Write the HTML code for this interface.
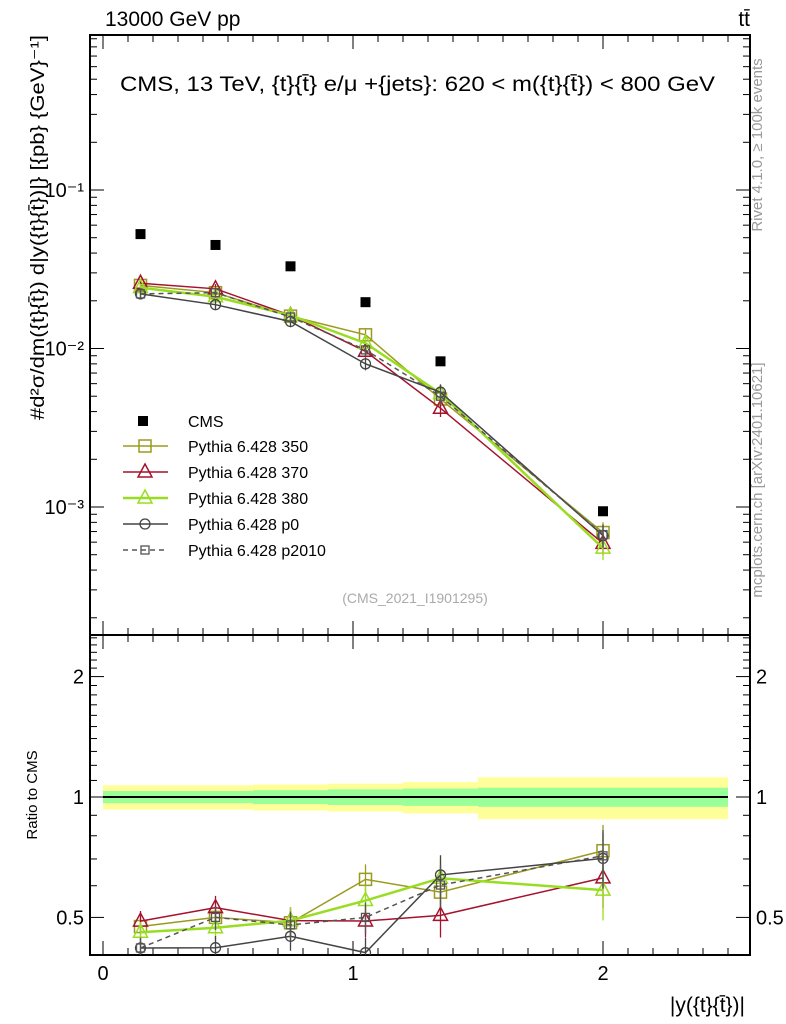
<!DOCTYPE html>
<html><head><meta charset="utf-8"><style>
html,body{margin:0;padding:0;background:#fff;}
svg{display:block;font-family:"Liberation Sans",sans-serif;}
</style></head><body>
<svg id="c" width="786" height="1024" viewBox="0 0 786 1024">
<text x="105" y="26" font-size="21">13000 GeV pp</text>
<text x="750" y="26" font-size="21" text-anchor="end">tt̄</text>
<text x="120" y="91" font-size="21" textLength="595" lengthAdjust="spacingAndGlyphs">CMS, 13 TeV, {t}{t̄} e/μ +{jets}: 620 &lt; m({t}{t̄}) &lt; 800 GeV</text>
<text transform="translate(44,420) rotate(-90)" font-size="19" textLength="385" lengthAdjust="spacingAndGlyphs">#d²σ/dm({t}{t̄}) d|y({t}{t̄})|} [{pb} {GeV}⁻¹]</text>
<text transform="translate(762,145) rotate(-90)" font-size="15" fill="#999" text-anchor="middle">Rivet 4.1.0, ≥ 100k events</text>
<text transform="translate(762,480) rotate(-90)" font-size="15" fill="#999" text-anchor="middle">mcplots.cern.ch [arXiv:2401.10621]</text>
<text x="415" y="603" font-size="14" fill="#aaa" text-anchor="middle">(CMS_2021_I1901295)</text>
<text transform="translate(37,795) rotate(-90)" font-size="15" text-anchor="middle">Ratio to CMS</text>
<text x="745" y="1012" font-size="21" text-anchor="end">|y({t}{t̄})|</text>
<g id="g"></g>
</svg>
<script>
const xCenters=[0.15,0.45,0.75,1.05,1.35,2.0];
const xLow=[0,0.3,0.6,0.9,1.2,1.5];
const xHigh=[0.3,0.6,0.9,1.2,1.5,2.5];
const cmsVals=[0.0527,0.045,0.033,0.0196,0.0083,0.00094];
const bandOuter=[0.07,0.07,0.075,0.08,0.09,0.12];
const bandInner=[0.035,0.035,0.04,0.045,0.05,0.055];
const mc350=[0.0250,0.0225,0.0160,0.0122,0.0048,0.00069];
const mc370=[0.0258,0.0238,0.0162,0.0096,0.0042,0.00059];
const mc380=[0.0242,0.0212,0.0162,0.0108,0.0052,0.00055];
const mcP0=[0.0221,0.0189,0.0148,0.0080,0.0053,0.00066];
const mcP2010=[0.0221,0.0225,0.0158,0.0098,0.0050,0.00067];
const relErr=[0.06,0.07,0.08,0.09,0.12,0.16];
const xTickLabels=["0","1","2"];
const mainTickLabels=["10⁻¹","10⁻²","10⁻³"];
const ratioTickLabels=["0.5","1","2"];

const NS="http://www.w3.org/2000/svg";
const g=document.getElementById('g');
function mk(t,a,p){const e=document.createElementNS(NS,t);for(const k in a)e.setAttribute(k,a[k]);(p||g).appendChild(e);return e;}
const L=90,R=750,T1=35,B1=635,T2=635,B2=955;
const X=v=>103+250*v;
const Ym=v=>190-158.5*(Math.log10(v)+1);
const Yr=v=>797-400*Math.log10(v);

for(let i=0;i<xLow.length;i++){
 let e=mk('rect',{x:X(xLow[i]),y:Yr(1+bandOuter[i]),width:X(xHigh[i])-X(xLow[i]),height:Yr(1-bandOuter[i])-Yr(1+bandOuter[i]),fill:'#ffff99'});
 
 
 let f=mk('rect',{x:X(xLow[i]),y:Yr(1+bandInner[i]),width:X(xHigh[i])-X(xLow[i]),height:Yr(1-bandInner[i])-Yr(1+bandInner[i]),fill:'#99ff99'});
 
 
}
let ln=mk('line',{x1:X(0),x2:X(2.5),y1:Yr(1),y2:Yr(1),stroke:'#000','stroke-width':2});



for(const [t,b,nm] of [[T1,B1,'main-frame'],[T2,B2,'ratio-frame']]){
 let r=mk('rect',{x:L,y:t,width:R-L,height:b-t,fill:'none',stroke:'#000','stroke-width':2});
 
 
}
for(let v=0;v<=2.5001;v+=0.1){
 const maj=Math.abs(v-Math.round(v))<1e-6;const len=maj?14:7;const x=X(v);
 for(const [t,b] of [[T1,B1],[T2,B2]]){
  mk('line',{x1:x,x2:x,y1:b,y2:b-len,stroke:'#000'});
  mk('line',{x1:x,x2:x,y1:t,y2:t+len,stroke:'#000'});
 }
}
xTickLabels.forEach((s,i)=>{let t=mk('text',{x:X(i),y:980,'font-size':20,'text-anchor':'middle'});t.textContent=s;
 
 });
for(let d=-4;d<=0;d++)for(let m=1;m<10;m++){
 const v=m*Math.pow(10,d);const y=Ym(v);if(y<T1||y>B1)continue;const len=m==1?14:7;
 mk('line',{x1:L,x2:L+len,y1:y,y2:y,stroke:'#000'});mk('line',{x1:R,x2:R-len,y1:y,y2:y,stroke:'#000'});
}
mainTickLabels.forEach((s,i)=>{let t=mk('text',{x:84,y:Ym(Math.pow(10,-1-i))+7,'font-size':20,'text-anchor':'end'});t.textContent=s;
 
 });
for(let v=0.4;v<=2.6;v+=0.1){const y=Yr(v);if(y<T2||y>B2)continue;
 const maj=[0.5,1,2].some(a=>Math.abs(a-v)<1e-6);const len=maj?14:7;
 mk('line',{x1:L,x2:L+len,y1:y,y2:y,stroke:'#000'});mk('line',{x1:R,x2:R-len,y1:y,y2:y,stroke:'#000'});}
[0.5,1,2].forEach((v,i)=>{
 let t=mk('text',{x:84,y:Yr(v)+7,'font-size':20,'text-anchor':'end'});t.textContent=ratioTickLabels[i];
 
 
 let u=mk('text',{x:756,y:Yr(v)+7,'font-size':20});u.textContent=ratioTickLabels[i];
 
 
});

const defs=mk('defs',{});
const c1=mk('clipPath',{id:'cm'},defs);mk('rect',{x:L,y:T1,width:R-L,height:B1-T1},c1);
const c2=mk('clipPath',{id:'cr'},defs);mk('rect',{x:L,y:T2,width:R-L,height:B2-T2},c2);
const gm=mk('g',{'clip-path':'url(#cm)'});const gr=mk('g',{'clip-path':'url(#cr)'});

function marker(p,type,x,y,col,nm){
 let e;
 if(type=='sq')e=mk('rect',{x:x-6,y:y-6,width:12,height:12,fill:'none',stroke:col,'stroke-width':1.5},p);
 else if(type=='ssq')e=mk('rect',{x:x-4,y:y-4,width:8,height:8,fill:'none',stroke:col,'stroke-width':1.3},p);
 else if(type=='tri')e=mk('polygon',{points:`${x},${y-8} ${x-7},${y+5} ${x+7},${y+5}`,fill:'none',stroke:col,'stroke-width':1.5},p);
 else if(type=='circ')e=mk('circle',{cx:x,cy:y,r:5,fill:'none',stroke:col,'stroke-width':1.3},p);
 else e=mk('rect',{x:x-5,y:y-5,width:10,height:10,fill:'#000'},p);
 
 
}
const series=[
 {v:mc350,c:'#9c9a1e',m:'sq',w:1.5,d:'',n:'Pythia 6.428 350',k:'pythia-350'},
 {v:mc370,c:'#a5122d',m:'tri',w:1.5,d:'',n:'Pythia 6.428 370',k:'pythia-370'},
 {v:mc380,c:'#99dd22',m:'tri',w:2.5,d:'',n:'Pythia 6.428 380',k:'pythia-380'},
 {v:mcP0,c:'#444',m:'circ',w:1.5,d:'',n:'Pythia 6.428 p0',k:'pythia-p0'},
 {v:mcP2010,c:'#555',m:'ssq',w:1.5,d:'5,4',n:'Pythia 6.428 p2010',k:'pythia-p2010'}];
series.forEach(s=>{
 const pm=xCenters.map((x,i)=>X(x)+','+Ym(s.v[i])).join(' ');
 let pl=mk('polyline',{points:pm,fill:'none',stroke:s.c,'stroke-width':s.w,'stroke-dasharray':s.d},gm);
 
 
 const rat=s.v.map((v,i)=>v/cmsVals[i]);
 const pr=xCenters.map((x,i)=>X(x)+','+Yr(rat[i])).join(' ');
 let rl=mk('polyline',{points:pr,fill:'none',stroke:s.c,'stroke-width':s.w,'stroke-dasharray':s.d},gr);
 
 
 xCenters.forEach((x,i)=>{
  const e=relErr[i];
  mk('line',{x1:X(x),x2:X(x),y1:Ym(s.v[i]*(1+e)),y2:Ym(s.v[i]*(1-e)),stroke:s.c,'stroke-width':1.3},gm);
  mk('line',{x1:X(x),x2:X(x),y1:Yr(rat[i]*(1+e)),y2:Yr(rat[i]*(1-e)),stroke:s.c,'stroke-width':1.3},gr);
  marker(gm,s.m,X(x),Ym(s.v[i]),s.c,s.k+'-point');
  marker(gr,s.m,X(x),Yr(rat[i]),s.c,s.k+'-ratio-point');
 });
});
xCenters.forEach((x,i)=>marker(gm,'cms',X(x),Ym(cmsVals[i]),'#000','cms-point'));

const ly=[421,446,472,498,524,550];
marker(g,'cms',143,ly[0],'#000','legend-cms-marker');
let lt=mk('text',{x:188,y:ly[0]+6,'font-size':16});lt.textContent='CMS';


series.forEach((s,i)=>{const y=ly[i+1];
 let l=mk('line',{x1:123,x2:168,y1:y,y2:y,stroke:s.c,'stroke-width':s.w,'stroke-dasharray':s.d});
 
 
 marker(g,s.m,145,y,s.c,'legend-marker');
 let t=mk('text',{x:188,y:y+6,'font-size':16});t.textContent=s.n;
 
 
});
</script>
</body></html>
